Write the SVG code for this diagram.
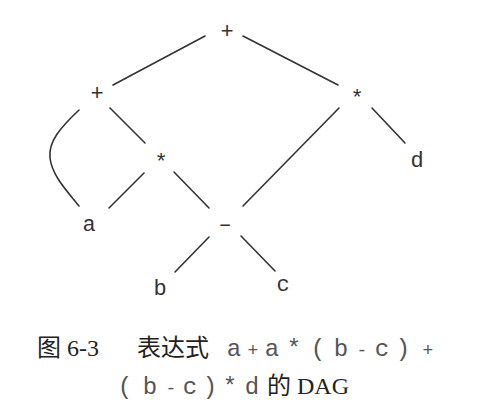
<svg xmlns="http://www.w3.org/2000/svg" width="489" height="415" viewBox="0 0 489 415">
<style>
.n{font-family:"Liberation Mono",monospace;font-size:22px;fill:#333;text-anchor:middle}
.e{stroke:#333;stroke-width:1.6;fill:none;stroke-linecap:round}
.cap{font-size:24px;fill:#222}
.cj{font-family:"Liberation Serif","Noto Sans CJK SC",serif}
.m{font-family:"Liberation Mono",monospace;fill:#555;text-anchor:middle}
.s{font-size:18px}
</style>
<rect width="489" height="415" fill="#fff"/>
<g id="edges">
<line class="e" x1="205" y1="36" x2="113" y2="85"/>
<line class="e" x1="243" y1="36" x2="338" y2="85"/>
<line class="e" x1="110" y1="108" x2="145" y2="143"/>
<path class="e" d="M79,110 C60,128 48,142 50,158 C52,176 68,192 79,206"/>
<line class="e" x1="339" y1="108" x2="243" y2="206"/>
<line class="e" x1="372" y1="108" x2="405" y2="143"/>
<line class="e" x1="144" y1="173" x2="109" y2="208"/>
<line class="e" x1="174" y1="172" x2="209" y2="208"/>
<line class="e" x1="209" y1="237" x2="175" y2="272"/>
<line class="e" x1="241" y1="236" x2="275" y2="271"/>
</g>
<g id="n-plus-top"><text class="n" x="227" y="38">+</text></g>
<g id="n-plus-left"><text class="n" x="97" y="100">+</text></g>
<g id="n-star-right"><text class="n" x="357" y="105">*</text></g>
<g id="n-star-mid"><text class="n" x="161" y="169">*</text></g>
<g id="n-d"><text class="n" x="417" y="167">d</text></g>
<g id="n-a"><text class="n" x="89" y="231">a</text></g>
<g id="n-minus"><text class="n" x="225" y="231">–</text></g>
<g id="n-b"><text class="n" x="160" y="295">b</text></g>
<g id="n-c"><text class="n" x="283" y="291">c</text></g>
<g id="caption" class="cap">
<text class="cj" x="37" y="356">图 6-3</text>
<text class="cj" x="137" y="356">表达式</text>
<g class="m">
<text x="234" y="356">a</text>
<text x="253" y="356" class="s">+</text>
<text x="272" y="356">a</text>
<text x="294" y="356">*</text>
<text x="318" y="356">(</text>
<text x="341" y="356">b</text>
<text x="362" y="356" class="s">-</text>
<text x="382" y="356">c</text>
<text x="403" y="356">)</text>
<text x="428" y="356" class="s">+</text>
<text x="125" y="394">(</text>
<text x="150" y="394">b</text>
<text x="171" y="394" class="s">-</text>
<text x="190" y="394">c</text>
<text x="210" y="394">)</text>
<text x="230" y="394">*</text>
<text x="252" y="394">d</text>
</g>
<text class="cj" x="267" y="394">的 DAG</text>
</g>
</svg>
